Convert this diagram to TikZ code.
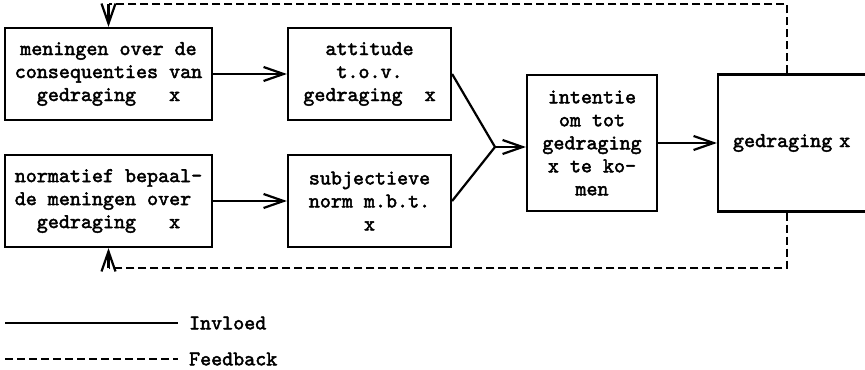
\documentclass[tikz,border=0pt]{standalone}
\usepackage{fontspec}
\setmonofont{Latin Modern Mono}[AutoFakeBold=2.2]
\usetikzlibrary{arrows.meta}

\begin{document}
\begin{tikzpicture}[x=0.5pt, y=-0.5pt,
  line width=1.1pt,
  every node/.style={font=\ttfamily\bfseries\fontsize{10.5}{11.5}\selectfont},
  blok/.style={draw, rectangle, align=center, inner sep=2pt},
  pijl/.style={-{Straight Barb[length=10pt, width=7pt, line width=1.1pt]}},
  terug/.style={dash pattern=on 4pt off 2pt}]

\useasboundingbox (0,0) rectangle (865,369);

\node (mening) [blok, minimum width=103.5pt, minimum height=46pt] at (108.5,74) {meningen over de\\consequenties van\\gedraging~~~x};

\node (normatief) [blok, below of=mening, node distance=63.5pt, minimum width=103.5pt, minimum height=46pt, align=left] {normatief bepaal-\\de meningen over\\\hphantom{aa}gedraging~~~x};

\node (attitude) [blok, right of=mening, node distance=130.5pt, minimum width=81.5pt, minimum height=46pt] {attitude\\t.o.v.\\gedraging~~x};
\node (norm) [blok, right of=normatief, node distance=130.5pt, minimum width=81.5pt, minimum height=46pt] {subjectieve\\norm m.b.t.\\x};

\node (intentie) [blok, right of=attitude, node distance=111.25pt, yshift=-34.5pt, minimum width=65pt, minimum height=68pt] {intentie\\om tot\\gedraging\\x te ko-\\men};

\node (gedrag) [blok, right of=intentie, node distance=133.5pt, minimum width=141pt, minimum height=68.5pt, text width=126pt, align=left, inner xsep=7.5pt] {gedraging x};

\coordinate (samen) at (495,147);

\draw[pijl] (mening) -- (attitude);
\draw[pijl] (normatief) -- (norm);
\draw (attitude.east) -- (samen) -- (norm.east);
\draw[pijl] (samen) -- (samen -| intentie.west);
\draw[pijl] (intentie) -- (intentie -| gedrag.west);

% feedback
\coordinate (boven) at ([yshift=11.5pt]mening.north);
\coordinate (onder) at ([yshift=-10pt]normatief.south);
\draw[terug] ([xshift=35pt]gedrag.north west) |- (boven);
\draw[pijl] (boven) -- (mening.north);
\draw[terug] ([xshift=35pt]gedrag.south west) |- (onder);
\draw[pijl] (onder) -- (normatief.south);

% legenda
\node (invloed) [anchor=west, inner sep=0pt] at (188,323) {Invloed};
\node (feedback) [anchor=west, inner sep=0pt] at (188,359) {Feedback};
\coordinate (invloedbegin) at (5,323);
\coordinate (feedbackbegin) at (5,359);
\draw (invloedbegin) -- ([xshift=-5pt]invloed.west);
\draw[terug] (feedbackbegin) -- ([xshift=-5pt]feedback.west);

\end{tikzpicture}
\end{document}
